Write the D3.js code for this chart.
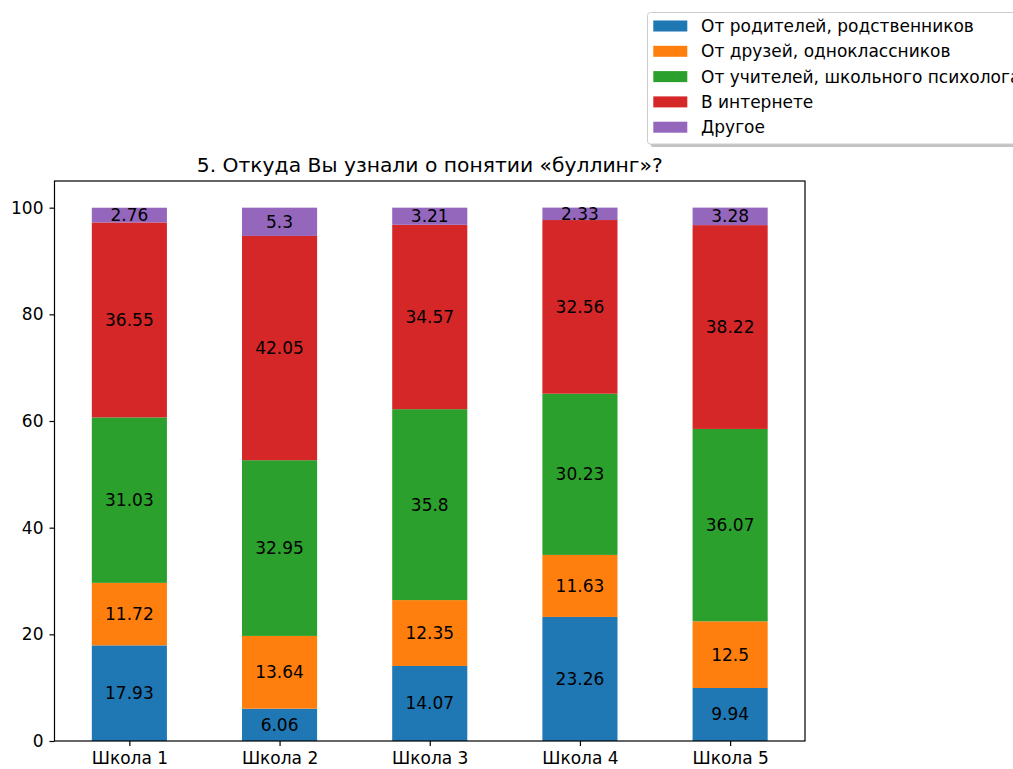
<!DOCTYPE html>
<html><head><meta charset="utf-8">
<script src="https://cdn.jsdelivr.net/npm/d3@7"></script>
<style>body{margin:0;background:#fff;} svg{display:block;font-family:"DejaVu Sans",sans-serif;}</style>
</head><body>
<svg id="c" width="1013" height="769"></svg>
<script>
const categories = ["Школа 1","Школа 2","Школа 3","Школа 4","Школа 5"];
const seriesNames = ["От родителей, родственников","От друзей, одноклассников","От учителей, школьного психолога","В интернете","Другое"];
const parents  = [17.93, 6.06, 14.07, 23.26, 9.94];
const friends  = [11.72, 13.64, 12.35, 11.63, 12.5];
const teachers = [31.03, 32.95, 35.8, 30.23, 36.07];
const internet = [36.55, 42.05, 34.57, 32.56, 38.22];
const other    = [2.76, 5.3, 3.21, 2.33, 3.28];
const yTicks = [0, 20, 40, 60, 80, 100];
const colors = ["#1f77b4","#ff7f0e","#2ca02c","#d62728","#9467bd"];
const title = "5. Откуда Вы узнали о понятии «буллинг»?";

const series = [parents, friends, teachers, internet, other];
const svg = d3.select("#c");
const L = 54.5, R = 805, T = 181, B = 741;
const x = d3.scaleLinear().domain([-0.4985, 4.4985]).range([L, R]);
const y = d3.scaleLinear().domain([0, 105]).range([B, T]);
const bw = x(0.5) - x(0);
const FS = 17;

// bars
categories.forEach((c, i) => {
  let base = 0;
  series.forEach((s, k) => {
    const v = s[i];
    const y0 = base, y1 = base + v;
    svg.append("rect").attr("x", x(i) - bw/2).attr("width", bw)
      .attr("y", y(y1)).attr("height", y(y0) - y(y1)).attr("fill", colors[k]);
    base = y1;
  });
});
categories.forEach((c, i) => {
  let base = 0;
  series.forEach((s, k) => {
    const v = s[i];
    const y0 = base, y1 = base + v;
    svg.append("text").attr("x", x(i)).attr("y", y((y0 + y1)/2))
      .attr("text-anchor", "middle").attr("dominant-baseline", "central")
      .attr("font-size", FS).attr("fill", "#000").text(String(v));
    base = y1;
  });
});

// axes
svg.append("rect").attr("x", L).attr("y", T).attr("width", R-L).attr("height", B-T)
  .attr("fill", "none").attr("stroke", "#000").attr("stroke-width", 1.2);
const ya = svg.append("g").attr("transform", `translate(${L},0)`)
  .call(d3.axisLeft(y).tickValues(yTicks).tickSize(5).tickPadding(6).tickFormat(d3.format("d")));
ya.select(".domain").remove();
ya.selectAll("line").attr("stroke-width", 1.2);
ya.selectAll("text").attr("font-size", FS).attr("font-family", "DejaVu Sans").attr("fill","#000");
const xa = svg.append("g").attr("transform", `translate(0,${B})`)
  .call(d3.axisBottom(x).tickValues(d3.range(categories.length)).tickSize(5).tickPadding(6).tickFormat(i => categories[i]));
xa.select(".domain").remove();
xa.selectAll("line").attr("stroke-width", 1.2);
xa.selectAll("text").attr("font-size", FS).attr("font-family", "DejaVu Sans").attr("fill","#000");

svg.append("text").attr("x", (L+R)/2).attr("y", 171.5).attr("text-anchor", "middle")
  .attr("font-size", 20.3).attr("fill", "#000").text(title);

// legend
const lg = svg.append("g");
const lx = 647.5, ly = 12.5, lw = 420, lh = 131.5;
lg.append("rect").attr("x", lx+3).attr("y", ly+3).attr("width", lw).attr("height", lh)
  .attr("rx", 3).attr("fill", "#888").attr("opacity", 0.5);
lg.append("rect").attr("x", lx).attr("y", ly).attr("width", lw).attr("height", lh)
  .attr("rx", 3).attr("fill", "#fff").attr("stroke", "#ccc");
seriesNames.forEach((n, k) => {
  const cy = 26 + k * 25.3;
  lg.append("rect").attr("x", 653.3).attr("y", cy - 5.5).attr("width", 34).attr("height", 11).attr("fill", colors[k]);
  lg.append("text").attr("x", 701).attr("y", cy).attr("dominant-baseline", "central")
    .attr("font-size", FS).attr("fill", "#000").text(n);
});
</script>
</body></html>
